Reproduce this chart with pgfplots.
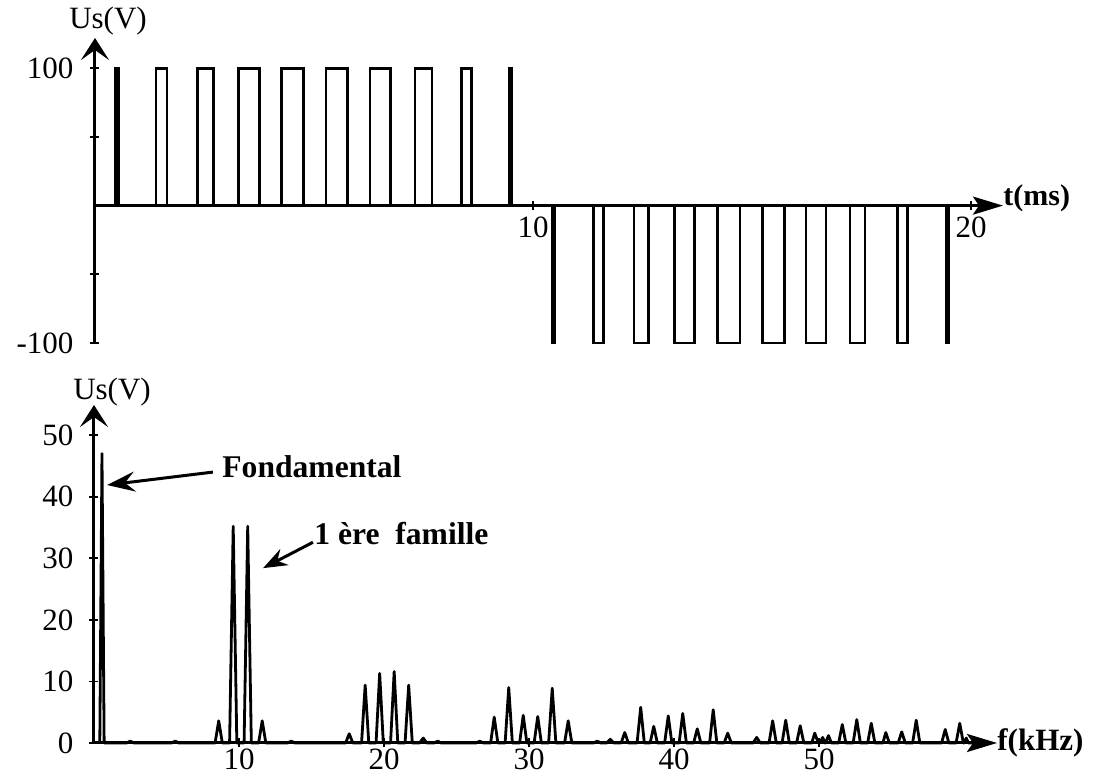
\documentclass[border=0pt]{standalone}
\usepackage{fontspec}
\setmainfont{Liberation Serif}
\usepackage{pgfplots}
\pgfplotsset{compat=1.18}
\usetikzlibrary{arrows.meta}

\begin{document}
\begin{tikzpicture}
\path[use as bounding box] (0,0) rectangle (547pt,387.5pt);
\pgfplotsset{
  myaxis/.style={
    scale only axis, enlargelimits=false, clip=false,
    axis line style={line width=1.5pt},
    tick align=inside, major tick length=4.5pt,
    tick style={line width=0.9pt, black},
    tick label style={font=\fontsize{15.5}{18}\selectfont},
    /pgf/number format/assume math mode=true,
  },
  myarrows/.style={
    every inner x axis line/.append style={-{Stealth[length=15pt,width=9pt,inset=3pt]}},
    every outer x axis line/.append style={-{Stealth[length=15pt,width=9pt,inset=3pt]}},
    every inner y axis line/.append style={-{Stealth[length=11pt,width=14pt,inset=5pt]}},
    every outer y axis line/.append style={-{Stealth[length=11pt,width=14pt,inset=5pt]}},
  }
}
% ---------------- top: PWM waveform ----------------
\begin{axis}[myaxis,
  at={(47.5pt,216pt)}, anchor=south west,
  width=454pt, height=152.5pt,
  axis lines=middle, myarrows,
  xmin=0, xmax=20.73, ymin=-100, ymax=122,
  xtick={10,20}, xticklabels={10,20},
  ytick={-100,-50,50,100}, yticklabels={-100,,,100},
  xticklabel style={anchor=north},
  yticklabel style={anchor=east, xshift=-5pt},
]
\addplot[line width=1.3pt, sharp plot, line join=miter, mark=none] coordinates {
(0,0)
(0.47,0)(0.47,100)(0.53,100)(0.53,0)
(1.39,0)(1.39,100)(1.64,100)(1.64,0)
(2.34,0)(2.34,100)(2.70,100)(2.70,0)
(3.27,0)(3.27,100)(3.75,100)(3.75,0)
(4.26,0)(4.26,100)(4.76,100)(4.76,0)
(5.27,0)(5.27,100)(5.77,100)(5.77,0)
(6.28,0)(6.28,100)(6.74,100)(6.74,0)
(7.31,0)(7.31,100)(7.69,100)(7.69,0)
(8.37,0)(8.37,100)(8.60,100)(8.60,0)
(9.45,0)(9.45,100)(9.51,100)(9.51,0)
(10.44,0)(10.44,-100)(10.50,-100)(10.50,0)
(11.38,0)(11.38,-100)(11.61,-100)(11.61,0)
(12.31,0)(12.31,-100)(12.63,-100)(12.63,0)
(13.23,0)(13.23,-100)(13.69,-100)(13.69,0)
(14.21,0)(14.21,-100)(14.73,-100)(14.73,0)
(15.24,0)(15.24,-100)(15.74,-100)(15.74,0)
(16.23,0)(16.23,-100)(16.69,-100)(16.69,0)
(17.24,0)(17.24,-100)(17.58,-100)(17.58,0)
(18.32,0)(18.32,-100)(18.55,-100)(18.55,0)
(19.44,0)(19.44,-100)(19.50,-100)(19.50,0)
(20.2,0)
};
\node[anchor=west, inner sep=0pt, yshift=3.5pt, font=\bfseries\fontsize{15}{18}\selectfont] at (axis cs:20.73,0) {t(ms)};
\node[anchor=south, inner sep=0pt, xshift=6.5pt, yshift=1pt, font=\fontsize{15.5}{18}\selectfont] at (axis cs:0,122) {Us(V)};
\end{axis}
% ---------------- bottom: spectrum ----------------
\begin{axis}[myaxis,
  at={(47pt,16pt)}, anchor=south west,
  width=451.5pt, height=169pt,
  axis lines=left, myarrows,
  xmin=0, xmax=62.27, ymin=0, ymax=54.9,
  xtick={10,20,30,40,50}, xticklabels={10,20,30,40,50},
  ytick={0,10,20,30,40,50}, yticklabels={0,10,20,30,40,50},
  xticklabel style={anchor=north, yshift=3pt},
  yticklabel style={anchor=east, xshift=-4.5pt},
]
\addplot[line width=1.4pt, sharp plot, line join=round, mark=none] coordinates {
(0.4,0)(0.55,47)(0.7,0)
(2.25,0)(2.5,0.3)(2.75,0)
(5.35,0)(5.6,0.3)(5.85,0)
(8.35,0)(8.6,3.6)(8.85,0)
(9.35,0)(9.6,35.2)(9.85,0)
(10.35,0)(10.6,35.2)(10.85,0)
(11.35,0)(11.6,3.6)(11.85,0)
(13.35,0)(13.6,0.3)(13.85,0)
(17.35,0)(17.6,1.5)(17.85,0)
(18.45,0)(18.7,9.4)(18.95,0)
(19.45,0)(19.7,11.3)(19.95,0)
(20.45,0)(20.7,11.6)(20.95,0)
(21.45,0)(21.7,9.4)(21.95,0)
(22.45,0)(22.7,0.8)(22.95,0)
(23.45,0)(23.7,0.3)(23.95,0)
(26.35,0)(26.6,0.3)(26.85,0)
(27.35,0)(27.6,4.2)(27.85,0)
(28.35,0)(28.6,9.0)(28.85,0)
(29.35,0)(29.6,4.5)(29.85,0)
(30.35,0)(30.6,4.3)(30.85,0)
(31.35,0)(31.6,8.9)(31.85,0)
(32.45,0)(32.7,3.6)(32.95,0)
(34.45,0)(34.7,0.3)(34.95,0)
(35.35,0)(35.6,0.6)(35.85,0)
(36.35,0)(36.6,1.7)(36.85,0)
(37.45,0)(37.7,5.8)(37.95,0)
(38.35,0)(38.6,2.7)(38.85,0)
(39.35,0)(39.6,4.4)(39.85,0)
(40.35,0)(40.6,4.8)(40.85,0)
(41.35,0)(41.6,2.3)(41.85,0)
(42.45,0)(42.7,5.4)(42.95,0)
(43.45,0)(43.7,1.6)(43.95,0)
(45.45,0)(45.7,0.9)(45.95,0)
(46.55,0)(46.8,3.6)(47.05,0)
(47.45,0)(47.7,3.7)(47.95,0)
(48.45,0)(48.7,2.8)(48.95,0)
(49.5,0)(49.7,1.6)(49.95,0)
(50.05,0)(50.25,0.9)(50.4,0)
(50.45,0)(50.65,1.2)(50.85,0)
(51.35,0)(51.6,3.0)(51.85,0)
(52.35,0)(52.6,3.8)(52.85,0)
(53.35,0)(53.6,3.2)(53.85,0)
(54.4,0)(54.6,1.7)(54.85,0)
(55.45,0)(55.7,1.8)(55.95,0)
(56.45,0)(56.7,3.7)(56.95,0)
(58.45,0)(58.7,2.2)(58.95,0)
(59.45,0)(59.7,3.2)(59.95,0)
(60.0,0)(60.15,0.8)(60.3,0)
(61,0)
};
\draw[line width=1.5pt, -{Stealth[length=14pt,width=10pt,inset=5pt]}] (axis cs:8.2,44.0) -- (axis cs:0.9,41.9);
\node[font=\bfseries\fontsize{15.8}{19}\selectfont, inner sep=0pt] at (axis cs:15.03,44.8) {Fondamental};
\draw[line width=1.5pt, -{Stealth[length=12pt,width=9pt,inset=4pt]}] (axis cs:15.1,32.6) -- (axis cs:11.66,28.4);
\node[font=\bfseries\fontsize{15.8}{19}\selectfont, inner sep=0pt] at (axis cs:21.2,34.1) {1 ère\ \ famille};
\node[anchor=west, inner sep=0pt, font=\bfseries\fontsize{15.5}{18}\selectfont] at (axis cs:62.27,0) {f(kHz)};
\node[anchor=south, inner sep=0pt, xshift=9pt, yshift=-1pt, font=\fontsize{15.5}{18}\selectfont] at (axis cs:0,54.9) {Us(V)};
\end{axis}
\end{tikzpicture}
\end{document}
